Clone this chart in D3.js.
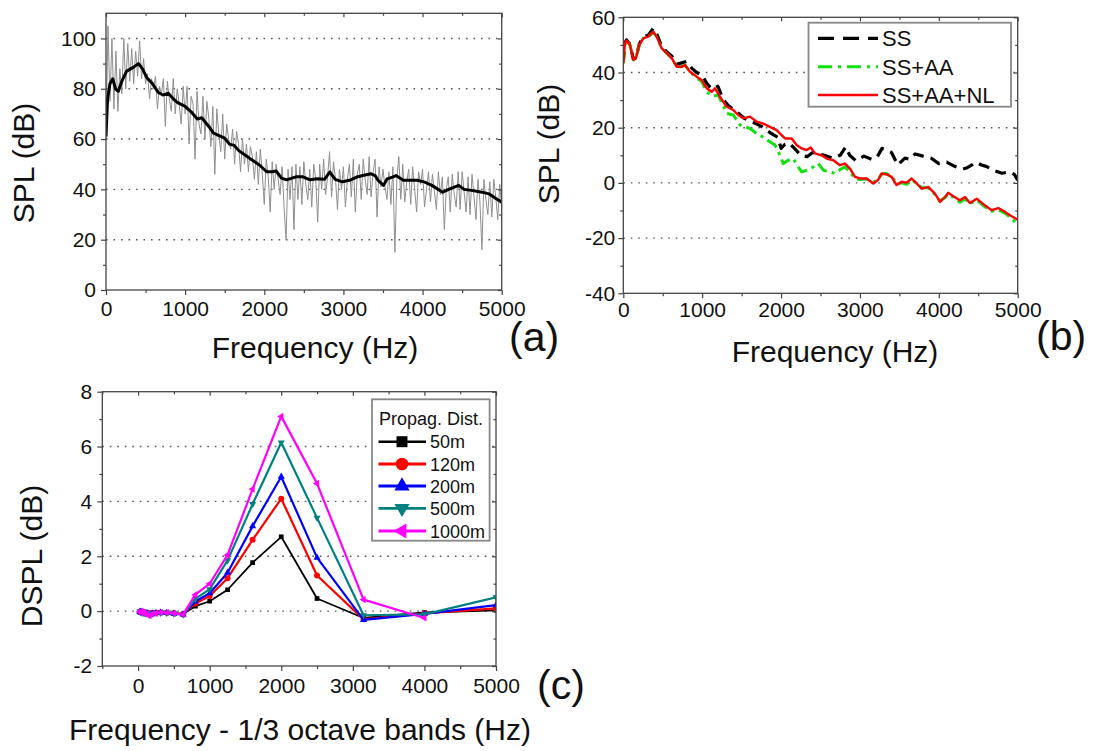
<!DOCTYPE html>
<html><head><meta charset="utf-8">
<script src="https://d3js.org/d3.v7.min.js"></script>
<style>
body{margin:0;background:#fff;}
svg text{font-family:"Liberation Sans", Arial, sans-serif;}
</style></head><body>
<svg id="chart" width="1096" height="751"></svg>
<script>
// ---------- Panel (a) data ----------
const rawStepHz = 25; // raw spectrum sampled every 25 Hz, 0..5000
const rawSPL = [
  60,105,75,100,72,95,71,88,78,100,
  80,98,83,96,82,95,85,99,84,92,
  82,86,76,84,80,85,72,81,78,84,
  65,83,76,71,84,70,80,74,66,81,
  70,81,58,77,74,52,79,66,62,77,
  60,75,68,57,73,46,72,62,55,70,
  52,66,60,56,64,50,63,58,47,60,
  50,58,47,57,53,44,55,42,56,46,
  34,52,45,31,51,40,50,44,38,49,
  33,20,48,36,49,24,50,36,49,34,
  51,42,36,48,33,50,44,27,50,40,
  52,38,45,55,37,51,44,32,48,40,
  49,33,44,50,37,52,31,46,50,36,
  52,44,38,53,37,47,52,29,49,41,
  48,41,36,47,34,49,15,44,53,36,
  50,35,43,48,34,49,40,31,47,42,
  48,33,40,47,35,46,39,32,47,38,
  45,24,40,45,31,46,38,33,47,32,
  47,39,31,45,30,46,37,28,44,35,
  16,44,36,30,43,29,44,37,28,42,
  33
];
const smoothFreq = [0,20,50,85,120,156,200,261,345,410,460,514,588,661,720,787,850,905,1000,1086,1154,1210,1260,1312,1356,1420,1493,1560,1620,1674,1765,1855,1946,2030,2100,2150,2217,2283,2350,2400,2489,2579,2670,2760,2828,2896,2987,3077,3168,3258,3349,3400,3439,3507,3552,3620,3665,3756,3846,3937,4027,4118,4254,4344,4457,4525,4616,4751,4842,4932,5000];
const smoothSPL = [61,76,82,84,80,79,83,87,88.5,90,88,84.5,82,78.5,77.5,78.2,76,74.5,73,70.5,68,68.5,66.5,64.5,62.5,61.5,60.5,58,57.5,55.5,53.5,51.5,49.5,47,47,47.3,44.5,43.8,44.5,45,45,43.8,44.2,44,46.9,44,43,43.6,44.9,45.6,46.2,45.5,43.6,41.6,44.2,44.9,45.5,43.6,43.6,43.6,42.9,41.6,38.9,40.2,41.6,40,39.6,38.9,38.2,36.3,34.9];

// ---------- Panel (b) data ----------
const ssFreq = [0,21,42,85,127,160,203,254,317,380,423,486,549,613,676,740,800,870,930,1000,1060,1120,1200,1260,1330,1400,1470,1530,1600,1680,1750,1820,1900,1960,2000,2050,2100,2170,2250,2330,2400,2470,2550,2650,2750,2820,2870,2950,3050,3150,3220,3280,3340,3400,3480,3570,3630,3700,3800,3900,4000,4100,4200,4300,4360,4420,4470,4540,4600,4700,4800,4900,4960,5000];
const ssSPL = [43.5,50.8,51.8,50.2,44.8,45.4,50.3,53,53.5,56,54,49.5,47.5,46,43,43.5,44,41.5,40,39,36,34,35,30.5,28,26.5,25,23.5,22.5,21.5,20.5,19,17.5,16.5,12.5,14,14.5,12.5,10,9.5,11,10.5,10,9,10,13,10,8,9.7,8.5,9.5,12.5,12,11,6.5,9,8.5,10.5,9.7,9,7,7.5,6,5,5.5,6.5,7.5,6.5,6,4.5,3.5,4,3,1];
const aaFreq = [0,21,42,85,127,160,203,254,317,380,423,486,549,613,676,740,782,845,930,993,1057,1120,1205,1310,1395,1479,1606,1690,1775,1838,1923,1986,2028,2092,2155,2218,2261,2324,2409,2472,2536,2620,2683,2747,2810,2874,2937,3000,3085,3170,3233,3275,3338,3402,3465,3529,3592,3655,3719,3782,3867,3951,4015,4078,4120,4184,4268,4332,4395,4480,4564,4670,4754,4839,4923,5000];
const aaSPL = [43.3,50.6,51.6,50,44.6,45.2,50,52.4,53,54.5,53,48.8,47,45.2,42.1,42.1,42.7,40.3,38,36.8,33,31.5,31.8,25.2,24.6,21,19.7,17.9,16.5,15.3,13.7,10,7,8.2,8.8,5.8,4,4.6,5.8,7,4.6,4,3.4,4.8,5.8,4,1.6,1.2,1.4,0.2,1.5,3.2,3.4,2.4,-0.3,0,-0.5,1,0,-1.8,-1.7,-4.2,-6.5,-5.4,-4,-5.2,-7,-5.8,-7.6,-6.2,-8.2,-10.3,-9.8,-11,-12.8,-15.2];
const nlFreq = [0,21,42,85,127,160,203,254,317,380,423,486,549,613,676,740,782,845,930,993,1057,1120,1162,1226,1310,1395,1458,1521,1606,1690,1775,1859,1944,2007,2050,2134,2197,2261,2324,2375,2430,2514,2578,2662,2747,2810,2874,2937,3000,3085,3170,3233,3275,3338,3402,3465,3529,3592,3655,3719,3782,3867,3951,4015,4078,4120,4184,4268,4332,4395,4480,4564,4670,4754,4839,4923,5000];
const nlSPL = [43.3,50.6,51.6,50,44.6,45.2,50,52.4,53,54.8,53,48.8,47,45.2,42.1,42.1,42.7,40.3,38.5,37.3,34.3,33,34.3,31.2,27.6,26.4,24.6,23.4,24,22.2,21.5,20.3,19.1,17.3,16.1,16.1,13.7,12.5,11.9,12.8,10.7,10,8.8,8.2,6.4,7,5.2,2.2,1.6,1.6,-0.2,1.2,3.4,3.1,2.2,-0.8,0.4,0.1,1.6,-0.2,-2.1,-1.5,-3.9,-6.9,-5.1,-3.6,-4.8,-6.3,-5.1,-7.3,-5.7,-7.7,-9.9,-9.1,-10.5,-12.1,-13.3];
const bLegend = ["SS", "SS+AA", "SS+AA+NL"];

// ---------- Panel (c) data ----------
const bands = [25,31.5,40,50,63,80,100,125,160,200,250,315,400,500,630,800,1000,1250,1600,2000,2500,3150,4000,5000];
const d50m   = [-0.02,-0.03,-0.02,-0.04,-0.03,-0.05,-0.06,-0.05,-0.08,-0.06,-0.05,-0.04,-0.05,-0.07,-0.10,0.18,0.36,0.78,1.77,2.71,0.46,-0.25,-0.05,0.03];
const d120m  = [-0.02,-0.03,-0.03,-0.04,-0.04,-0.06,-0.07,-0.06,-0.10,-0.07,-0.06,-0.05,-0.06,-0.08,-0.11,0.28,0.55,1.20,2.60,4.10,1.30,-0.30,-0.08,0.10];
const d200m  = [-0.02,-0.04,-0.03,-0.05,-0.04,-0.07,-0.08,-0.07,-0.12,-0.08,-0.07,-0.05,-0.06,-0.09,-0.12,0.35,0.65,1.40,3.10,4.90,1.95,-0.32,-0.10,0.22];
const d500m  = [-0.02,-0.04,-0.03,-0.05,-0.05,-0.07,-0.09,-0.08,-0.14,-0.09,-0.07,-0.06,-0.06,-0.09,-0.13,0.45,0.80,1.85,3.90,6.15,3.40,-0.15,-0.12,0.50];
const d1000m = [-0.02,-0.05,0.00,-0.03,-0.06,-0.05,-0.10,-0.12,-0.17,-0.10,-0.08,-0.05,-0.05,-0.08,-0.12,0.60,1.00,2.05,4.45,7.10,4.65,0.42,-0.25,null];
const cSeriesNames = ["50m","120m","200m","500m","1000m"];

// ---------- helpers ----------
const svg = d3.select("#chart");
const FONT = '"Liberation Sans", Arial, sans-serif';
const AX = "#444";
const TICKFS = 21;
const fmt = d => String(d);

function makePanel(p) {
  const x = d3.scaleLinear().domain(p.xDomain).range([p.L, p.R]);
  const y = d3.scaleLinear().domain(p.yDomain).range([p.B, p.T]);
  const g = svg.append("g");
  svg.append("clipPath").attr("id", "clip" + p.id)
    .append("rect").attr("x", p.L).attr("y", p.T).attr("width", p.R - p.L).attr("height", p.B - p.T);
  g.append("g").selectAll("line").data(p.grid).join("line")
    .attr("x1", p.L).attr("x2", p.R).attr("y1", d => y(d)).attr("y2", d => y(d))
    .attr("stroke", "#555").attr("stroke-width", 1.4).attr("stroke-dasharray", "1.6,5.9");
  const plot = g.append("g").attr("clip-path", `url(#clip${p.id})`);
  return {x, y, g, plot, p};
}

function styleAxis(sel) {
  sel.select(".domain").remove();
  sel.selectAll("line").attr("stroke", AX).attr("stroke-width", 1.2);
  sel.selectAll("text").attr("font-size", TICKFS).attr("fill", "#111").attr("font-family", FONT);
  sel.attr("font-family", null).attr("font-size", null);
}

function drawAxes(P) {
  const p = P.p, g = P.g;
  styleAxis(g.append("g").attr("transform", `translate(0,${p.B})`)
    .call(d3.axisBottom(P.x).tickValues(p.xMinor).tickSize(3).tickFormat("")));
  styleAxis(g.append("g").attr("transform", `translate(${p.L},0)`)
    .call(d3.axisLeft(P.y).tickValues(p.yMinor).tickSize(3).tickFormat("")));
  styleAxis(g.append("g").attr("transform", `translate(0,${p.T})`)
    .call(d3.axisTop(P.x).tickValues(p.xMajor).tickSize(-4).tickFormat("")));
  styleAxis(g.append("g").attr("transform", `translate(0,${p.T})`)
    .call(d3.axisTop(P.x).tickValues(p.xMinor).tickSize(-2.5).tickFormat("")));
  styleAxis(g.append("g").attr("transform", `translate(${p.R},0)`)
    .call(d3.axisRight(P.y).tickValues(p.yMajor).tickSize(-4).tickFormat("")));
  styleAxis(g.append("g").attr("transform", `translate(${p.R},0)`)
    .call(d3.axisRight(P.y).tickValues(p.yMinor).tickSize(-2.5).tickFormat("")));
  styleAxis(g.append("g").attr("transform", `translate(0,${p.B})`)
    .call(d3.axisBottom(P.x).tickValues(p.xMajor).tickSize(5).tickPadding(p.xPad).tickFormat(fmt)));
  styleAxis(g.append("g").attr("transform", `translate(${p.L},0)`)
    .call(d3.axisLeft(P.y).tickValues(p.yMajor).tickSize(5).tickPadding(p.yPad).tickFormat(fmt)));
  g.append("rect").attr("x", p.L).attr("y", p.T).attr("width", p.R - p.L).attr("height", p.B - p.T)
    .attr("fill", "none").attr("stroke", AX).attr("stroke-width", 1.3);
  g.append("text").attr("x", p.xtX).attr("y", p.xtY).attr("text-anchor", "middle")
    .attr("font-size", 30).attr("fill", "#111").text(p.xTitle);
  g.append("text").attr("transform", `translate(${p.ytX},${p.ytY}) rotate(-90)`).attr("text-anchor", "middle")
    .attr("font-size", 30).attr("fill", "#111").text(p.yTitle);
  g.append("text").attr("x", p.lbX).attr("y", p.lbY).attr("font-size", 41).attr("fill", "#111").text(p.label);
}

// ---------- Panel (a) ----------
const pa = {id: "a", L: 106, R: 501.7, T: 13.3, B: 290, xDomain: [0, 5000], yDomain: [0, 110],
  grid: [20, 40, 60, 80, 100], xMajor: [0,1000,2000,3000,4000,5000], xMinor: [500,1500,2500,3500,4500],
  yMajor: [0,20,40,60,80,100], yMinor: [10,30,50,70,90], xPad: 6.5, yPad: 5,
  xTitle: "Frequency (Hz)", xtX: 315, xtY: 358, yTitle: "SPL (dB)", ytX: 34, ytY: 163,
  label: "(a)", lbX: 509, lbY: 351};
const A = makePanel(pa);
const rawPts = rawSPL.map((v, i) => [i * rawStepHz, v]);
A.plot.append("path").datum(rawPts)
  .attr("d", d3.line().x(d => A.x(d[0])).y(d => A.y(d[1])))
  .attr("fill", "none").attr("stroke", "#8f8f8f").attr("stroke-width", 1);
A.plot.append("path").datum(smoothFreq.map((f, i) => [f, smoothSPL[i]]))
  .attr("d", d3.line().x(d => A.x(d[0])).y(d => A.y(d[1])))
  .attr("fill", "none").attr("stroke", "#000").attr("stroke-width", 3).attr("stroke-linejoin", "round");
drawAxes(A);

// ---------- Panel (b) ----------
const pb = {id: "b", L: 623.3, R: 1017.7, T: 17.3, B: 293.3, xDomain: [0, 5000], yDomain: [-40, 60],
  grid: [-20, 0, 20, 40], xMajor: [0,1000,2000,3000,4000,5000], xMinor: [500,1500,2500,3500,4500],
  yMajor: [-40,-20,0,20,40,60], yMinor: [-30,-10,10,30,50], xPad: 3.5, yPad: 3,
  xTitle: "Frequency (Hz)", xtX: 835, xtY: 362, yTitle: "SPL (dB)", ytX: 559, ytY: 144,
  label: "(b)", lbX: 1036, lbY: 350};
const B = makePanel(pb);
const bStyles = [
  {f: ssFreq, v: ssSPL, color: "#000", w: 3.2, dash: "11,7"},
  {f: aaFreq, v: aaSPL, color: "#11e011", w: 3, dash: "12,5,3,5"},
  {f: nlFreq, v: nlSPL, color: "#ff0000", w: 2.4, dash: null}
];
bStyles.forEach(s => {
  B.plot.append("path").datum(s.f.map((f, i) => [f, s.v[i]]))
    .attr("d", d3.line().x(d => B.x(d[0])).y(d => B.y(d[1])))
    .attr("fill", "none").attr("stroke", s.color).attr("stroke-width", s.w)
    .attr("stroke-dasharray", s.dash).attr("stroke-linejoin", "round");
});
drawAxes(B);
const lgB = B.g.append("g");
lgB.append("rect").attr("x", 808.5).attr("y", 22.7).attr("width", 202.5).attr("height", 84)
  .attr("fill", "#fff").attr("stroke", "#888").attr("stroke-width", 1.8);
const lgBy = [38.3, 66.7, 95];
bLegend.forEach((name, i) => {
  const s = bStyles[i];
  lgB.append("line").attr("x1", 818).attr("x2", 878).attr("y1", lgBy[i]).attr("y2", lgBy[i])
    .attr("stroke", s.color).attr("stroke-width", s.w).attr("stroke-dasharray", i === 0 ? "16,9" : (i === 1 ? "14,6,3,6" : null));
  lgB.append("text").attr("x", 882).attr("y", lgBy[i] + 7.8).attr("font-size", 22).attr("fill", "#111").text(name);
});

// ---------- Panel (c) ----------
const pc = {id: "c", L: 102.3, R: 496, T: 391.7, B: 666, xDomain: [-500, 5000], yDomain: [-2, 8],
  grid: [0, 2, 4, 6], xMajor: [0,1000,2000,3000,4000,5000], xMinor: [-500,500,1500,2500,3500,4500],
  yMajor: [-2,0,2,4,6,8], yMinor: [-1,1,3,5,7], xPad: 7.5, yPad: 5,
  xTitle: "Frequency - 1/3 octave bands (Hz)", xtX: 300, xtY: 740, yTitle: "DSPL (dB)", ytX: 42, ytY: 556,
  label: "(c)", lbX: 537, lbY: 699};
const C = makePanel(pc);
const cSeries = [
  {name: cSeriesNames[0], v: d50m,   color: "#000000", w: 1.8, sym: d3.symbolSquare,   rot: 0,   s: 22, ls: 120},
  {name: cSeriesNames[1], v: d120m,  color: "#ff0000", w: 2.2, sym: d3.symbolCircle,   rot: 0,   s: 28, ls: 125},
  {name: cSeriesNames[2], v: d200m,  color: "#0000ff", w: 2.2, sym: d3.symbolTriangle, rot: 0,   s: 22, ls: 100},
  {name: cSeriesNames[3], v: d500m,  color: "#008080", w: 2.2, sym: d3.symbolTriangle, rot: 180, s: 22, ls: 100},
  {name: cSeriesNames[4], v: d1000m, color: "#ff00ff", w: 2.2, sym: d3.symbolTriangle, rot: -90, s: 22, ls: 100}
];
cSeries.forEach(s => {
  const pts = bands.map((f, i) => [f, s.v[i]]).filter(d => d[1] !== null);
  C.plot.append("path").datum(pts)
    .attr("d", d3.line().x(d => C.x(d[0])).y(d => C.y(d[1])))
    .attr("fill", "none").attr("stroke", s.color).attr("stroke-width", s.w).attr("stroke-linejoin", "round");
  C.plot.append("g").selectAll("path").data(pts).join("path")
    .attr("transform", d => `translate(${C.x(d[0])},${C.y(d[1])}) rotate(${s.rot})`)
    .attr("d", d3.symbol().type(s.sym).size(s.s)).attr("fill", s.color);
});
drawAxes(C);
const lgC = C.g.append("g");
lgC.append("rect").attr("x", 372).attr("y", 399.3).attr("width", 117.6).attr("height", 141.4)
  .attr("fill", "#fff").attr("stroke", "#888").attr("stroke-width", 1.8);
lgC.append("text").attr("x", 431).attr("y", 425).attr("text-anchor", "middle")
  .attr("font-size", 18).attr("fill", "#111").text("Propag. Dist.");
const lgCy = [441.7, 464, 486, 508.3, 531];
cSeries.forEach((s, i) => {
  lgC.append("line").attr("x1", 378.5).attr("x2", 426).attr("y1", lgCy[i]).attr("y2", lgCy[i])
    .attr("stroke", s.color).attr("stroke-width", s.w + 0.6);
  lgC.append("path").attr("transform", `translate(402,${lgCy[i]}) rotate(${s.rot})`)
    .attr("d", d3.symbol().type(s.sym).size(s.ls)).attr("fill", s.color);
  lgC.append("text").attr("x", 430).attr("y", lgCy[i] + 6.5).attr("font-size", 18).attr("fill", "#111").text(s.name);
});
</script>
</body></html>
